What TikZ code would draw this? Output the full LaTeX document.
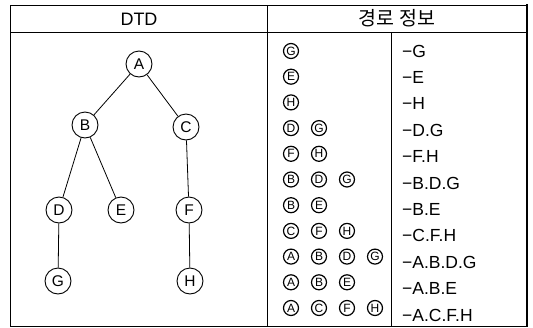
\documentclass[tikz,border=0pt]{standalone}
\usepackage{fontspec}
\setmainfont{Liberation Sans}
\newfontfamily\krfont{Noto Sans CJK KR}
\begin{document}
\begin{tikzpicture}[x=1pt,y=-1pt,
  tnode/.style={draw,line width=0.9pt,circle,inner sep=0pt,minimum size=26pt,font=\fontsize{15.5}{15.5}\selectfont},
  cletter/.style={draw,line width=1.2pt,circle,inner sep=0pt,minimum size=15pt,font=\fontsize{12}{12}\selectfont},
  pathtxt/.style={anchor=west,inner sep=0pt,font=\fontsize{17.5}{17.5}\selectfont},
  frame/.style={line width=0.8pt},
  edge/.style={line width=0.8pt}]
\useasboundingbox (0,0) rectangle (533,327);
% frame
\draw[frame] (10,5) -- (527,5);
\draw[frame] (10,5) -- (10,326) -- (527,326);
\draw[line width=2.6pt] (527,4) -- (527,327);
\draw[frame] (10,32.5) -- (527,32.5);
\draw[frame] (267,5) -- (267,326);
\draw[frame] (391,32.5) -- (391,326);
% headers
\node[font=\fontsize{18}{18}\selectfont] (h1) at (139,19) {DTD};
\node[font=\krfont\fontsize{19.5}{19.5}\selectfont] (h2) at (397,18.5) {경로 정보};
% tree
\node[tnode] (A) at (139,64) {A};
\node[tnode] (B) at (85,125) {B};
\node[tnode] (C) at (186,127) {C};
\node[tnode] (D) at (59,210) {D};
\node[tnode] (E) at (121,210) {E};
\node[tnode] (F) at (189,210) {F};
\node[tnode] (G) at (58,281) {G};
\node[tnode] (H) at (190,281) {H};
\draw[edge] (A) -- (B);
\draw[edge] (A) -- (C);
\draw[edge] (B) -- (D);
\draw[edge] (B) -- (E);
\draw[edge] (C) -- (F);
\draw[edge] (D) -- (G);
\draw[edge] (F) -- (H);
% path info rows
\foreach \row/\letters/\txt in {
  0/{G}/{−G},
  1/{E}/{−E},
  2/{H}/{−H},
  3/{D,G}/{−D.G},
  4/{F,H}/{−F.H},
  5/{B,D,G}/{−B.D.G},
  6/{B,E}/{−B.E},
  7/{C,F,H}/{−C.F.H},
  8/{A,B,D,G}/{−A.B.D.G},
  9/{A,B,E}/{−A.B.E},
  10/{A,C,F,H}/{−A.C.F.H}}{
  \pgfmathsetmacro{\cy}{51+25.7*\row}
  \pgfmathsetmacro{\ty}{51+26.4*\row}
  \foreach \L [count=\j from 0] in \letters {
    \pgfmathsetmacro{\cx}{291+28*\j}
    \node[cletter] (c\row-\j) at (\cx,\cy) {\L};
  }
  \node[pathtxt] (t\row) at (402,\ty) {\txt};
}
\end{tikzpicture}
\end{document}
